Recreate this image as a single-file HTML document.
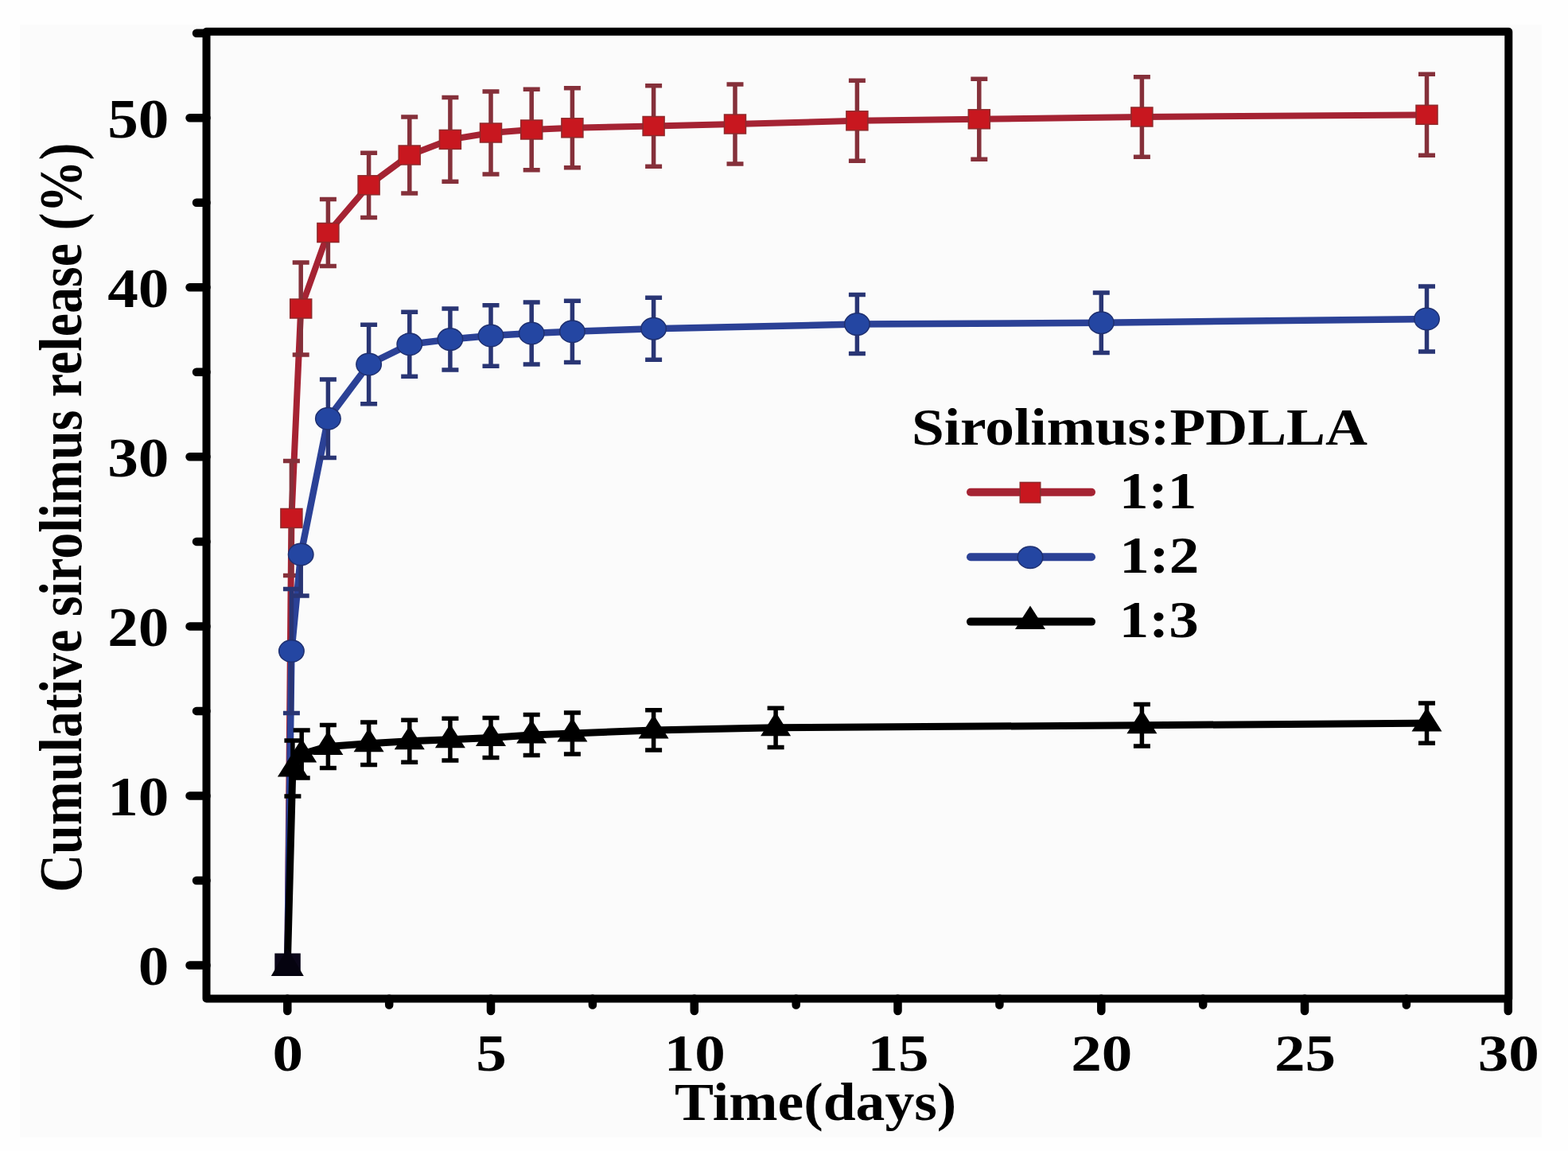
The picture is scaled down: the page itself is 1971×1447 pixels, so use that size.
<!DOCTYPE html>
<html><head><meta charset="utf-8"><title>Cumulative sirolimus release</title>
<style>html,body{margin:0;padding:0;background:#fefefe;width:1971px;height:1447px;overflow:hidden}svg{display:block}</style>
</head><body>
<svg width="1971" height="1447" viewBox="0 0 1971 1447">
<rect width="1971" height="1447" fill="#fefefe"/>
<rect x="25" y="31" width="1913" height="1399" fill="#fbfbfb"/>
<rect x="259.5" y="39.8" width="1636.8" height="1215.7" fill="none" stroke="#000" stroke-width="10" stroke-linejoin="round"/>
<path d="M259.5 1213.5H238.5M259.5 1107H247M259.5 1000.4H238.5M259.5 893.9H247M259.5 787.4H238.5M259.5 680.9H247M259.5 574.3H238.5M259.5 467.8H247M259.5 361.3H238.5M259.5 254.7H247M259.5 148.2H238.5M259.5 41.7H247M361.3 1255.5V1271M489.2 1255.5V1263.5M617 1255.5V1271M744.9 1255.5V1263.5M872.8 1255.5V1271M1000.7 1255.5V1263.5M1128.5 1255.5V1271M1256.4 1255.5V1263.5M1384.3 1255.5V1271M1512.2 1255.5V1263.5M1640 1255.5V1271M1767.9 1255.5V1263.5M1895.8 1255.5V1271" stroke="#000" stroke-width="10.5" stroke-linecap="round" fill="none"/>
<g font-family="'Liberation Serif','Times New Roman',serif" font-weight="bold" font-size="66.5" fill="#000"><text font-size="70.5" transform="translate(212.4,1238) scale(1.095,1)" text-anchor="end">0</text><text font-size="70.5" transform="translate(212.4,1024.9) scale(1.095,1)" text-anchor="end">10</text><text font-size="70.5" transform="translate(212.4,811.9) scale(1.095,1)" text-anchor="end">20</text><text font-size="70.5" transform="translate(212.4,598.8) scale(1.095,1)" text-anchor="end">30</text><text font-size="70.5" transform="translate(212.4,385.8) scale(1.095,1)" text-anchor="end">40</text><text font-size="70.5" transform="translate(212.4,172.7) scale(1.095,1)" text-anchor="end">50</text><text transform="translate(361.8,1346) scale(1.16,1)" text-anchor="middle">0</text><text transform="translate(617.5,1346) scale(1.16,1)" text-anchor="middle">5</text><text transform="translate(873.3,1346) scale(1.16,1)" text-anchor="middle">10</text><text transform="translate(1129,1346) scale(1.16,1)" text-anchor="middle">15</text><text transform="translate(1384.8,1346) scale(1.16,1)" text-anchor="middle">20</text><text transform="translate(1640.5,1346) scale(1.16,1)" text-anchor="middle">25</text><text transform="translate(1896.3,1346) scale(1.16,1)" text-anchor="middle">30</text></g>
<text font-family="'Liberation Serif','Times New Roman',serif" font-weight="bold" font-size="67.5" transform="translate(848.1,1408) scale(1.09,1)">Time(days)</text>
<text font-family="'Liberation Serif','Times New Roman',serif" font-weight="bold" font-size="66.07" transform="translate(101.8,1121.8) rotate(-90) scale(1,1.152)">Cumulative sirolimus release (%)</text>
<polyline points="361.3,1213.5 366.4,651.5 378.2,388 412.4,292.5 463.6,232.8 514.8,195 565.9,175.4 617,167 668.2,163 719.4,160.8 821.6,158.5 924,156 1077.4,151.8 1230.8,149.8 1435.4,147 1793.5,144.3" fill="none" stroke="#a52333" stroke-width="8" stroke-linejoin="round" stroke-linecap="round"/>
<path d="M366.4 651.5V579.5M355.9 579.5H376.9M366.4 651.5V723.5M355.9 723.5H376.9M378.2 388V330M367.7 330H388.7M378.2 388V446M367.7 446H388.7M412.4 292.5V250.5M401.9 250.5H422.9M412.4 292.5V334.5M401.9 334.5H422.9M463.6 232.8V192.2M453.1 192.2H474.1M463.6 232.8V273.4M453.1 273.4H474.1M514.8 195V147M504.2 147H525.2M514.8 195V243M504.2 243H525.2M565.9 175.4V122.6M555.4 122.6H576.4M565.9 175.4V228.2M555.4 228.2H576.4M617 167V115M606.5 115H627.5M617 167V219M606.5 219H627.5M668.2 163V112.3M657.7 112.3H678.7M668.2 163V213.7M657.7 213.7H678.7M719.4 160.8V110.8M708.9 110.8H729.9M719.4 160.8V210.8M708.9 210.8H729.9M821.6 158.5V107.7M811.1 107.7H832.1M821.6 158.5V209.3M811.1 209.3H832.1M924 156V106M913.5 106H934.5M924 156V206M913.5 206H934.5M1077.4 151.8V101.3M1066.9 101.3H1087.9M1077.4 151.8V202.3M1066.9 202.3H1087.9M1230.8 149.8V99.3M1220.3 99.3H1241.3M1230.8 149.8V200.3M1220.3 200.3H1241.3M1435.4 147V96.7M1424.9 96.7H1445.9M1435.4 147V197.3M1424.9 197.3H1445.9M1793.5 144.3V93.3M1783 93.3H1804M1793.5 144.3V195.3M1783 195.3H1804" stroke="#85303a" stroke-width="5.5" fill="none"/>
<g fill="#c8171f" stroke="#8e2a2c" stroke-width="1.5"><rect x="352.9" y="639.5" width="27.0" height="24.0"/><rect x="364.7" y="376" width="27.0" height="24.0"/><rect x="398.9" y="280.5" width="27.0" height="24.0"/><rect x="450.1" y="220.8" width="27.0" height="24.0"/><rect x="501.2" y="183" width="27.0" height="24.0"/><rect x="552.4" y="163.4" width="27.0" height="24.0"/><rect x="603.5" y="155" width="27.0" height="24.0"/><rect x="654.7" y="151" width="27.0" height="24.0"/><rect x="705.9" y="148.8" width="27.0" height="24.0"/><rect x="808.1" y="146.5" width="27.0" height="24.0"/><rect x="910.5" y="144" width="27.0" height="24.0"/><rect x="1063.9" y="139.8" width="27.0" height="24.0"/><rect x="1217.3" y="137.8" width="27.0" height="24.0"/><rect x="1421.9" y="135" width="27.0" height="24.0"/><rect x="1780" y="132.3" width="27.0" height="24.0"/></g>
<polyline points="361.3,1213.5 366.4,818.5 378.2,697 412.4,526.3 463.6,458 514.8,432.8 565.9,426.6 617,422 668.2,419 719.4,416.8 821.6,413.2 1077.4,407.6 1384.3,405.7 1793.5,401" fill="none" stroke="#2b4196" stroke-width="8.5" stroke-linejoin="round" stroke-linecap="round"/>
<path d="M366.4 818.5V740.5M355.9 740.5H376.9M366.4 818.5V896.5M355.9 896.5H376.9M378.2 697V749M367.7 749H388.7M412.4 526.3V477M401.9 477H422.9M412.4 526.3V575.6M401.9 575.6H422.9M463.6 458V408.3M453.1 408.3H474.1M463.6 458V507.7M453.1 507.7H474.1M514.8 432.8V392.3M504.2 392.3H525.2M514.8 432.8V473.3M504.2 473.3H525.2M565.9 426.6V388.1M555.4 388.1H576.4M565.9 426.6V465.1M555.4 465.1H576.4M617 422V383.7M606.5 383.7H627.5M617 422V460.3M606.5 460.3H627.5M668.2 419V380.1M657.7 380.1H678.7M668.2 419V457.9M657.7 457.9H678.7M719.4 416.8V378.2M708.9 378.2H729.9M719.4 416.8V455.4M708.9 455.4H729.9M821.6 413.2V374.2M811.1 374.2H832.1M821.6 413.2V452.2M811.1 452.2H832.1M1077.4 407.6V370.6M1066.9 370.6H1087.9M1077.4 407.6V444.6M1066.9 444.6H1087.9M1384.3 405.7V368M1373.8 368H1394.8M1384.3 405.7V443.4M1373.8 443.4H1394.8M1793.5 401V360M1783 360H1804M1793.5 401V442M1783 442H1804" stroke="#293574" stroke-width="5.5" fill="none"/>
<g fill="#2446a2" stroke="#1f3070" stroke-width="1.5"><ellipse cx="366.4" cy="818.5" rx="15.75" ry="13.75"/><ellipse cx="378.2" cy="697" rx="15.75" ry="13.75"/><ellipse cx="412.4" cy="526.3" rx="15.75" ry="13.75"/><ellipse cx="463.6" cy="458" rx="15.75" ry="13.75"/><ellipse cx="514.8" cy="432.8" rx="15.75" ry="13.75"/><ellipse cx="565.9" cy="426.6" rx="15.75" ry="13.75"/><ellipse cx="617" cy="422" rx="15.75" ry="13.75"/><ellipse cx="668.2" cy="419" rx="15.75" ry="13.75"/><ellipse cx="719.4" cy="416.8" rx="15.75" ry="13.75"/><ellipse cx="821.6" cy="413.2" rx="15.75" ry="13.75"/><ellipse cx="1077.4" cy="407.6" rx="15.75" ry="13.75"/><ellipse cx="1384.3" cy="405.7" rx="15.75" ry="13.75"/><ellipse cx="1793.5" cy="401" rx="15.75" ry="13.75"/></g>
<polyline points="361.3,1213.5 367.9,966 379.2,948 412.4,938.4 463.6,934.8 514.8,931.7 565.9,929.7 617,927.6 668.2,924 719.4,922 821.6,917.9 975.1,914.8 1435.4,911.8 1793.5,909.1" fill="none" stroke="#000000" stroke-width="9" stroke-linejoin="round" stroke-linecap="round"/>
<path d="M367.9 966V931M357.4 931H378.4M367.9 966V1001M357.4 1001H378.4M379.2 948V918M368.7 918H389.7M379.2 948V978M368.7 978H389.7M412.4 938.4V911.4M401.9 911.4H422.9M412.4 938.4V965.4M401.9 965.4H422.9M463.6 934.8V908M453.1 908H474.1M463.6 934.8V961.6M453.1 961.6H474.1M514.8 931.7V905.2M504.2 905.2H525.2M514.8 931.7V958.2M504.2 958.2H525.2M565.9 929.7V903.3M555.4 903.3H576.4M565.9 929.7V956.1M555.4 956.1H576.4M617 927.6V902.6M606.5 902.6H627.5M617 927.6V952.6M606.5 952.6H627.5M668.2 924V898.4M657.7 898.4H678.7M668.2 924V949.6M657.7 949.6H678.7M719.4 922V896M708.9 896H729.9M719.4 922V948M708.9 948H729.9M821.6 917.9V892.7M811.1 892.7H832.1M821.6 917.9V943.1M811.1 943.1H832.1M975.1 914.8V890.2M964.6 890.2H985.6M975.1 914.8V939.4M964.6 939.4H985.6M1435.4 911.8V885.6M1424.9 885.6H1445.9M1435.4 911.8V938M1424.9 938H1445.9M1793.5 909.1V883.9M1783 883.9H1804M1793.5 909.1V934.3M1783 934.3H1804" stroke="#000000" stroke-width="5.5" fill="none"/>
<path d="M367.9 946.5L386.9 976.5L348.9 976.5ZM379.2 928.5L398.2 958.5L360.2 958.5ZM412.4 918.9L431.4 948.9L393.4 948.9ZM463.6 915.3L482.6 945.3L444.6 945.3ZM514.8 912.2L533.8 942.2L495.8 942.2ZM565.9 910.2L584.9 940.2L546.9 940.2ZM617 908.1L636 938.1L598 938.1ZM668.2 904.5L687.2 934.5L649.2 934.5ZM719.4 902.5L738.4 932.5L700.4 932.5ZM821.6 898.4L840.6 928.4L802.6 928.4ZM975.1 895.3L994.1 925.3L956.1 925.3ZM1435.4 892.3L1454.4 922.3L1416.4 922.3ZM1793.5 889.6L1812.5 919.6L1774.5 919.6Z" fill="#000000"/>
<rect x="345.3" y="1198.5" width="32.5" height="24" fill="#0b0719"/><path d="M361.3 1192L381.8 1227L340.8 1227Z" fill="#05030f"/>
<text font-family="'Liberation Serif','Times New Roman',serif" font-weight="bold" font-size="66.3" transform="translate(1145.9,558.8) scale(1.106,1)">Sirolimus:PDLLA</text>
<g stroke-width="10" stroke-linecap="round"><line x1="1220" y1="618.7" x2="1372" y2="618.7" stroke="#a52333"/><line x1="1220" y1="700.3" x2="1372" y2="700.3" stroke="#2b4196"/><line x1="1220" y1="781.6" x2="1372" y2="781.6" stroke="#000"/></g>
<rect x="1282.25" y="606.45" width="25.5" height="25.5" fill="#c8171f" stroke="#8e2a2c" stroke-width="1.5"/>
<ellipse cx="1295" cy="700.8" rx="15.75" ry="13.75" fill="#2446a2" stroke="#1f3070" stroke-width="1.5"/>
<path d="M1295 761.5L1314 791L1276 791Z" fill="#000"/>
<text font-family="'Liberation Serif','Times New Roman',serif" font-weight="bold" font-size="66" transform="translate(1406.9,638.8) scale(1.108,1)">1:1</text>
<text font-family="'Liberation Serif','Times New Roman',serif" font-weight="bold" font-size="66" transform="translate(1407.3,720) scale(1.138,1)">1:2</text>
<text font-family="'Liberation Serif','Times New Roman',serif" font-weight="bold" font-size="66" transform="translate(1406.7,801) scale(1.136,1)">1:3</text>
</svg>
</body></html>
